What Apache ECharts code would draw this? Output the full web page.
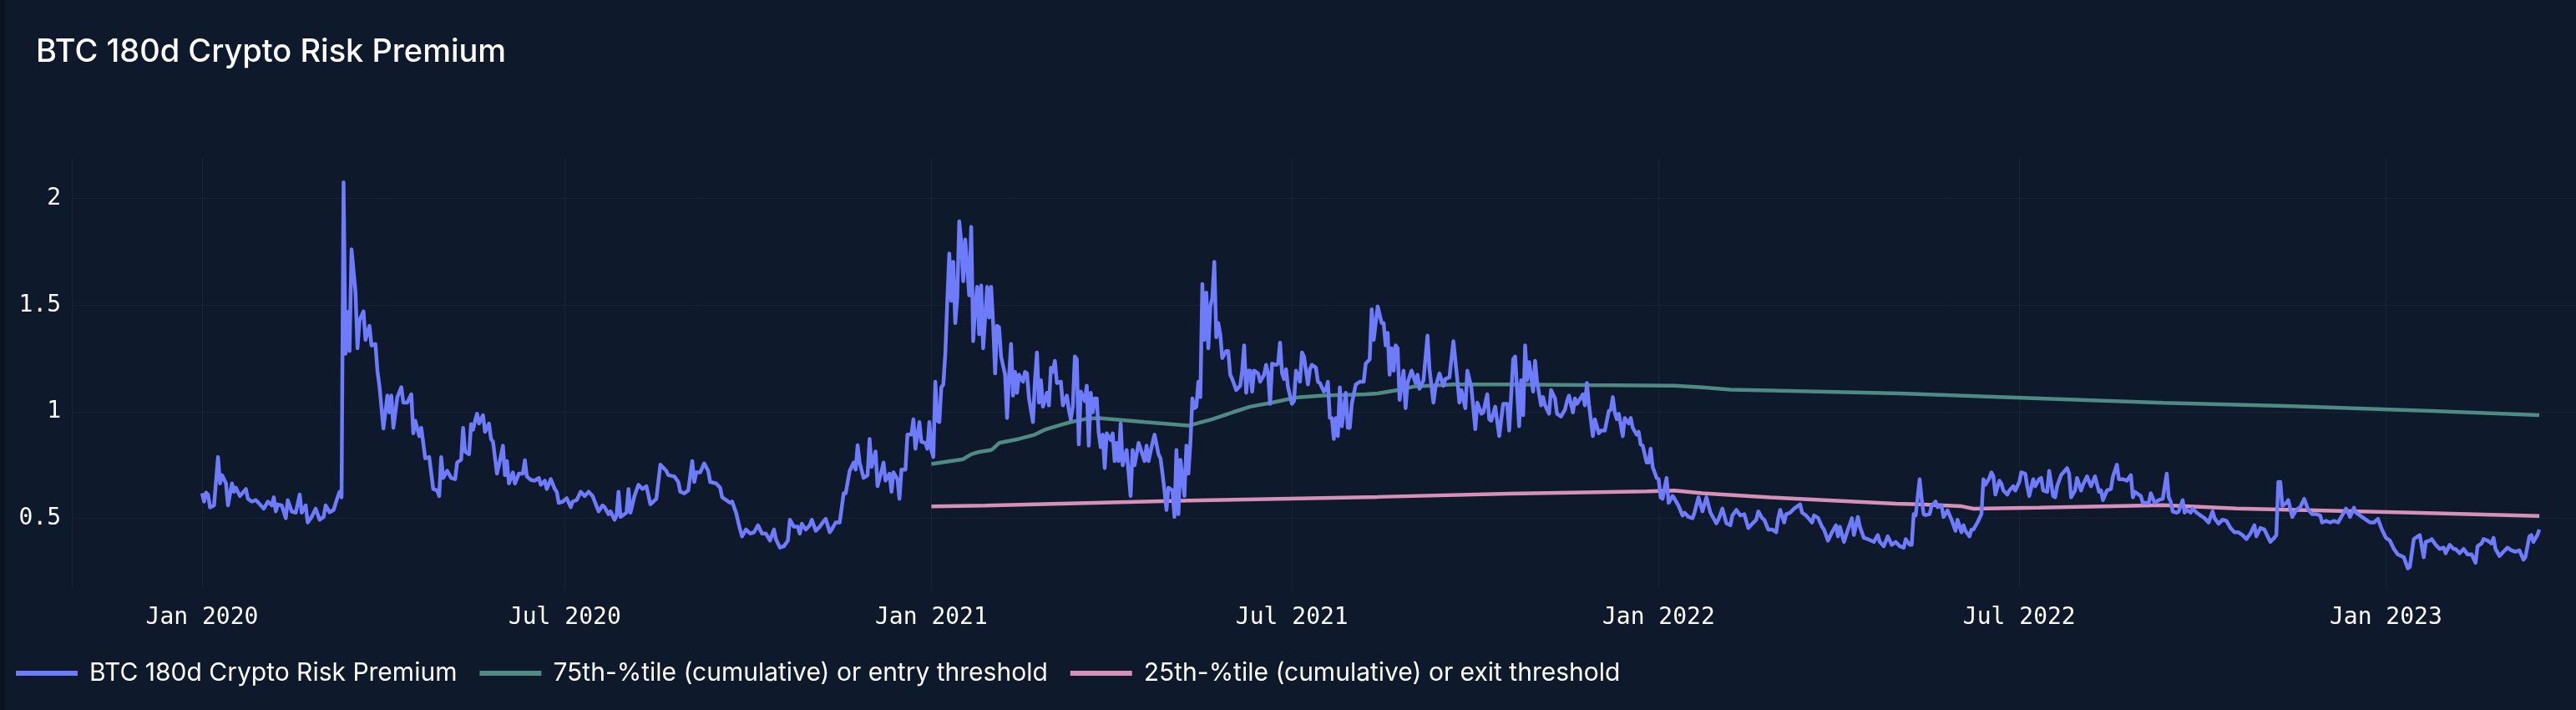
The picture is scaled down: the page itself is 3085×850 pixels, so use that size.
<!DOCTYPE html>
<html>
<head>
<meta charset="utf-8">
<script src="https://cdn.jsdelivr.net/npm/echarts@6/dist/echarts.min.js"></script>
<style>
html,body{margin:0;padding:0;background:#0e1a2b;}
#chart{width:3085px;height:850px;}
</style>
</head>
<body>
<div id="chart"></div>
<script>
// ---- Data: [days since 2020-01-01, value] ----
const START_DATE = '2020-01-01';
const seriesNames = ['BTC 180d Crypto Risk Premium', '75th-%tile (cumulative) or entry threshold', '25th-%tile (cumulative) or exit threshold'];
const yTickValues = [0.5, 1, 1.5, 2];

const premium2020a = [
[0,0.618],[1,0.579],[2,0.621],[3,0.612],[4,0.552],[6,0.561],[8,0.788],[9,0.664],[10,0.703],[12,0.664],
[13,0.561],[15,0.664],[16,0.625],[17,0.644],[19,0.605],[22,0.638],[23,0.592],[25,0.579],[27,0.586],[29,0.566],
[31,0.546],[33,0.579],[35,0.561],[36,0.599],[37,0.533],[38,0.566],[40,0.561],[42,0.501],[43,0.586],[45,0.533],
[47,0.527],[49,0.612],[50,0.527],[52,0.561],[53,0.481],[55,0.507],[57,0.546],[59,0.494],[61,0.507],[62,0.561],
[64,0.529],[66,0.540],[68,0.599],[69,0.625],[70,0.599],[71,2.076],[72,1.272],[73,1.468],[74,1.285],[75,1.762],
[77,1.559],[78,1.298],[79,1.429],[81,1.471],[82,1.337],[84,1.403],[85,1.311],[87,1.318],[88,1.193],[89,1.122],
[91,0.922],[93,1.076],[94,0.997],[95,1.076],[96,0.925],[98,1.069],[100,1.115],[101,1.043],[103,1.043],[105,1.082],
[106,0.899],[107,0.958],[109,0.886],[110,0.925],[112,0.782],[114,0.788],[116,0.638],[118,0.631],[119,0.605],[120,0.788],
[121,0.690],[123,0.723],[125,0.690],[127,0.684],[128,0.762],[130,0.775],[131,0.925],[132,0.814],[134,0.801],[135,0.942],
[136,0.916],[137,0.958],[138,0.991],[139,0.945],[141,0.984],[142,0.906],[144,0.945],[145,0.873],[146,0.860],[148,0.710],
[149,0.749],[151,0.841],[152,0.703],[153,0.769],[154,0.664],[156,0.716],[157,0.664],[159,0.710],[161,0.710],[162,0.773],
[163,0.697],[165,0.681],[167,0.677],[169,0.690],[170,0.658],[172,0.677],[173,0.638],[175,0.684],[177,0.638],[178,0.625],
[179,0.573],[181,0.579],[183,0.595],[185,0.553],[186,0.579],[188,0.586],[190,0.625],[192,0.605],[194,0.625],[196,0.605]
];
const premium2020b = [
[199,0.533],[201,0.561],[202,0.553],[204,0.520],[205,0.533],[207,0.494],[208,0.514],[209,0.625],[210,0.507],[213,0.527],
[214,0.638],[215,0.527],[217,0.605],[219,0.658],[221,0.638],[223,0.651],[225,0.566],[228,0.592],[230,0.752],[231,0.742],
[233,0.723],[234,0.703],[237,0.697],[239,0.671],[240,0.625],[242,0.618],[244,0.631],[246,0.769],[247,0.671],[248,0.716],
[250,0.716],[252,0.758],[254,0.723],[255,0.671],[258,0.664],[260,0.644],[261,0.599],[263,0.586],[265,0.573],[266,0.579],
[268,0.527],[270,0.448],[271,0.416],[273,0.448],[275,0.429],[277,0.435],[279,0.468],[281,0.429],[283,0.429],[285,0.396],
[287,0.448],[288,0.403],[290,0.363],[292,0.370],[294,0.396],[295,0.494],[297,0.461],[299,0.461],[300,0.429],[301,0.475],
[303,0.448],[305,0.468],[306,0.494],[308,0.442],[310,0.461],[312,0.488],[313,0.498],[315,0.435],[316,0.448],[318,0.481],
[320,0.481],[322,0.618],[323,0.618],[325,0.723],[327,0.762],[328,0.729],[329,0.843],[330,0.762],[332,0.690],[334,0.703],
[335,0.873],[336,0.742],[338,0.814],[339,0.651],[341,0.723],[342,0.762],[343,0.677],[345,0.710],[346,0.625],[347,0.716],
[349,0.684],[350,0.592],[351,0.729],[353,0.729],[354,0.893],[356,0.893],[357,0.965],[358,0.827],[360,0.952],[361,0.860],
[363,0.854],[364,0.827],[365,0.952],[366,0.821],[367,0.788],[368,1.141],[369,0.958],[370,0.952],[371,1.115],[372,1.128],
[373,1.272],[374,1.520],[375,1.742],[376,1.520],[377,1.703],[378,1.416],[379,1.533],[380,1.893],[381,1.795],[382,1.612],
[383,1.808],[385,1.546],[386,1.867],[387,1.331],[388,1.494],[389,1.586],[390,1.363],[391,1.592],[392,1.298]
];
const premium2021a = [
[394,1.586],[395,1.442],[396,1.586],[397,1.416],[398,1.180],[399,1.403],[400,1.396],[401,1.259],[403,1.174],[404,0.971],
[405,1.167],[406,1.318],[407,1.076],[408,1.187],[409,1.089],[410,1.174],[412,1.141],[413,1.187],[414,1.180],[415,1.063],
[417,0.952],[418,1.148],[419,1.278],[420,1.043],[421,1.148],[422,1.024],[424,1.089],[425,1.030],[426,1.207],[427,1.187],
[428,1.239],[429,1.135],[431,1.141],[432,1.030],[434,1.076],[435,1.010],[436,0.965],[437,1.024],[438,1.259],[439,1.246],
[440,0.847],[441,1.095],[443,1.050],[444,1.122],[445,0.841],[446,1.089],[447,0.997],[448,1.063],[449,1.063],[450,0.899],
[451,0.834],[452,0.893],[453,0.736],[454,0.899],[456,0.867],[457,0.899],[458,0.769],[459,0.854],[460,0.769],[461,0.945],
[462,0.749],[464,0.821],[466,0.605],[467,0.821],[468,0.749],[470,0.854],[471,0.827],[473,0.769],[474,0.841],[475,0.769],
[477,0.854],[478,0.893],[480,0.801],[481,0.782],[482,0.710],[483,0.631],[484,0.540],[485,0.644],[487,0.631],[488,0.507],
[489,0.821],[490,0.520],[491,0.775],[493,0.605],[494,0.841],[495,0.710],[496,0.854],[497,1.063],[498,1.017],[499,1.024],
[500,1.141],[501,1.069],[502,1.599],[503,1.337],[504,1.559],[505,1.298],[506,1.494],[507,1.533],[508,1.703],[509,1.350],
[510,1.416],[511,1.363],[512,1.252],[514,1.285],[515,1.285],[516,1.174],[517,1.154],[519,1.102],[521,1.122],[522,1.193],
[523,1.311],[524,1.089],[525,1.193],[526,1.193],[527,1.095],[528,1.193],[530,1.180],[531,1.141],[533,1.174],[534,1.220],
[535,1.180],[536,1.037],[537,1.226],[539,1.220],[540,1.226],[541,1.324],[542,1.180],[543,1.154],[544,1.200],[545,1.115],
[547,1.037],[548,1.050],[549,1.193],[551,1.141],[552,1.278],[553,1.259],[555,1.128],[556,1.200],[557,1.220],[559,1.207],
[560,1.141],[561,1.135],[563,1.095],[564,1.102],[565,1.141],[566,0.971],[567,0.971],[568,0.873],[569,0.971],[570,0.886],
[571,1.115],[572,0.932],[574,1.089],[575,0.925],[576,0.925],[577,1.037],[579,1.128],[581,1.141],[582,1.141],[583,1.141],
[584,1.226],[586,1.246],[587,1.481],[588,1.337],[590,1.494]
];
const premium2021b = [
[592,1.416],[593,1.416],[594,1.311],[595,1.370],[596,1.174],[597,1.298],[598,1.193],[599,1.311],[600,1.298],[601,1.056],
[603,1.193],[604,1.017],[605,1.135],[607,1.193],[609,1.135],[610,1.174],[611,1.108],[613,1.148],[615,1.357],[616,1.200],
[618,1.043],[619,1.115],[621,1.180],[623,1.122],[624,1.154],[626,1.161],[628,1.331],[630,1.148],[631,1.043],[632,1.102],
[634,1.017],[635,1.193],[637,1.115],[639,0.919],[640,1.043],[642,0.991],[643,0.997],[645,1.082],[646,0.965],[647,0.958],
[649,1.024],[651,0.886],[652,0.965],[653,1.037],[655,1.037],[656,0.912],[658,1.246],[659,1.259],[661,0.932],[662,1.148],
[663,0.984],[664,1.311],[665,1.148],[666,1.233],[668,1.095],[669,1.239],[670,1.141],[672,1.030],[673,1.069],[674,1.030],
[676,0.991],[677,1.102],[679,1.063],[680,0.991],[682,0.978],[684,1.010],[685,1.050],[686,1.076],[688,0.997],[689,1.063],
[690,1.037],[693,1.082],[694,1.030],[695,1.135],[696,1.037],[698,0.886],[699,0.965],[701,0.899],[702,0.912],[704,0.912],
[706,1.004],[707,1.010],[708,1.069],[709,0.997],[710,0.965],[711,0.991],[713,0.886],[714,0.971],[716,0.945],[717,0.971],
[718,0.925],[720,0.893],[721,0.906],[722,0.847],[723,0.841],[725,0.762],[726,0.762],[727,0.827],[728,0.742],[730,0.690],
[731,0.684],[732,0.599],[733,0.592],[734,0.644],[735,0.690],[736,0.573],[738,0.605],[739,0.592],[741,0.559],[743,0.514],
[744,0.527],[746,0.507],[748,0.501],[749,0.527],[751,0.599],[753,0.533],[755,0.599],[757,0.527],[760,0.477],[761,0.494],
[763,0.546],[765,0.477],[767,0.468],[768,0.514],[770,0.540],[772,0.514],[774,0.520],[776,0.455],[778,0.475],[780,0.494],
[781,0.533],[783,0.501],[784,0.494],[786,0.448]
];
const premium2022a = [
[788,0.448],[790,0.435],[791,0.501],[792,0.540],[794,0.481],[795,0.520],[797,0.527],[799,0.546],[802,0.566],[803,0.527],
[805,0.514],[808,0.481],[809,0.514],[811,0.503],[813,0.461],[814,0.448],[816,0.396],[818,0.435],[820,0.468],[821,0.416],
[822,0.461],[824,0.390],[826,0.448],[828,0.501],[829,0.422],[831,0.507],[832,0.461],[834,0.409],[836,0.403],[839,0.390],
[841,0.422],[842,0.390],[844,0.370],[846,0.416],[848,0.376],[850,0.390],[852,0.370],[854,0.363],[855,0.403],[857,0.376],
[858,0.376],[859,0.520],[860,0.514],[862,0.684],[863,0.592],[864,0.520],[865,0.516],[867,0.520],[868,0.559],[870,0.579],
[871,0.553],[873,0.559],[874,0.507],[876,0.537],[878,0.494],[880,0.442],[881,0.494],[883,0.435],[884,0.468],[885,0.442],
[887,0.416],[888,0.448],[889,0.448],[891,0.481],[893,0.520],[894,0.684],[895,0.658],[897,0.690],[898,0.716],[899,0.697],
[900,0.612],[902,0.677],[903,0.664],[904,0.631],[906,0.612],[907,0.631],[909,0.651],[910,0.631],[912,0.671],[913,0.716],
[915,0.710],[916,0.651],[917,0.605],[919,0.684],[920,0.651],[922,0.684],[923,0.690],[924,0.631],[926,0.625],[927,0.723],
[929,0.605],[930,0.599],[931,0.651],[933,0.703],[936,0.736],[937,0.710],[938,0.599],[940,0.631],[941,0.690],[943,0.631],
[944,0.658],[946,0.697],[948,0.651],[950,0.697],[952,0.625],[953,0.631],[954,0.586],[956,0.631],[958,0.638],[959,0.697],
[961,0.752],[962,0.684],[964,0.684],[966,0.677],[968,0.703],[969,0.599],[970,0.625],[973,0.605],[974,0.573],[975,0.573],
[977,0.573],[978,0.618],[980,0.573],[982,0.586],[984,0.592]
];
const premium2022b = [
[986,0.710],[987,0.599],[988,0.579],[989,0.533],[991,0.527],[992,0.533],[994,0.586],[995,0.527],[996,0.540],[998,0.527],
[999,0.546],[1001,0.527],[1003,0.514],[1005,0.501],[1007,0.481],[1009,0.533],[1010,0.501],[1012,0.475],[1014,0.494],[1016,0.488],
[1018,0.455],[1020,0.435],[1022,0.435],[1024,0.422],[1026,0.403],[1028,0.429],[1030,0.468],[1031,0.416],[1033,0.455],[1035,0.448],
[1038,0.390],[1040,0.409],[1041,0.422],[1042,0.671],[1043,0.671],[1044,0.559],[1046,0.573],[1047,0.586],[1049,0.507],[1051,0.540],
[1053,0.553],[1055,0.592],[1057,0.540],[1059,0.520],[1061,0.520],[1063,0.514],[1064,0.481],[1066,0.488],[1068,0.481],[1070,0.488],
[1072,0.481],[1074,0.514],[1076,0.546],[1078,0.507],[1080,0.550],[1081,0.527],[1084,0.507],[1086,0.494],[1088,0.481],[1090,0.481],
[1092,0.498],[1094,0.448],[1096,0.409],[1098,0.396],[1100,0.357],[1102,0.331],[1105,0.318],[1107,0.266],[1108,0.273],[1110,0.403],
[1112,0.416],[1113,0.422],[1115,0.318],[1116,0.390],[1118,0.396],[1119,0.403],[1121,0.376],[1123,0.357],[1125,0.363],[1126,0.337],
[1128,0.376],[1130,0.357],[1131,0.357],[1133,0.337],[1135,0.357],[1137,0.331],[1139,0.331],[1141,0.292],[1142,0.370],[1144,0.383],
[1145,0.403],[1147,0.396],[1149,0.383],[1150,0.409],[1151,0.357],[1153,0.324],[1155,0.344],[1157,0.363],[1159,0.350],[1161,0.344],
[1163,0.350],[1165,0.307],[1166,0.318],[1168,0.416],[1169,0.422],[1170,0.390],[1172,0.422],[1173,0.448]
];
const entryThreshold = [
[366,0.755],[382,0.778],[386,0.801],[390,0.812],[396,0.821],[397,0.827],[400,0.854],[410,0.873],[418,0.893],[422,0.912],
[424,0.919],[431,0.939],[436,0.952],[445,0.969],[450,0.971],[473,0.952],[495,0.935],[507,0.965],[517,0.997],[526,1.024],
[537,1.043],[548,1.065],[551,1.069],[563,1.076],[584,1.082],[590,1.086],[600,1.102],[608,1.118],[628,1.128],[656,1.128],
[695,1.125],[739,1.122],[753,1.115],[767,1.104],[787,1.100],[852,1.086],[922,1.063],[984,1.042],[1049,1.026],[1119,1.004],
[1173,0.984]
];
const exitThreshold = [
[366,0.556],[393,0.560],[490,0.583],[590,0.601],[656,0.616],[725,0.627],[739,0.631],[753,0.618],[787,0.599],[850,0.569],
[862,0.566],[883,0.557],[889,0.546],[922,0.551],[984,0.562],[1021,0.547],[1105,0.528],[1173,0.511]
];
const xRangeDays = [-65.38, 1191.4];
const yRange = [0.1697, 2.1906];

// ---- Build ----
const DAY = 86400000;
const T0 = Date.parse(START_DATE + 'T00:00:00Z');
const toTime = arr => arr.map(p => [T0 + p[0] * DAY, p[1]]);
const premium = toTime([].concat(premium2020a, premium2020b, premium2021a, premium2021b, premium2022a, premium2022b));
const MONTHS = ['Jan','Feb','Mar','Apr','May','Jun','Jul','Aug','Sep','Oct','Nov','Dec'];

const BG = '#0e1a2b';
const GRID = '#172336';
const COLORS = ['#6e7bfb', '#4f8a84', '#d690b9'];
const SANS = 'Inter, "Noto Sans", sans-serif';
const MONO = '"DejaVu Sans Mono", "Liberation Mono", monospace';

const chart = echarts.init(document.getElementById('chart'), null, {renderer: 'canvas'});
chart.setOption({
  useUTC: true,
  backgroundColor: BG,
  animation: false,
  graphic: [{type: 'rect', left: 0, top: 0, shape: {width: 6, height: 850}, style: {fill: '#0a1321'}, z: 100}],
  title: {
    text: 'BTC 180d Crypto Risk Premium',
    left: 38, top: 39,
    textStyle: {color: '#ffffff', fontFamily: SANS, fontSize: 38, fontWeight: 500}
  },
  legend: {
    left: 19, top: 791, padding: 0,
    icon: 'rect', itemWidth: 74, itemHeight: 6, itemGap: 27,
    textStyle: {color: '#ffffff', fontFamily: SANS, fontSize: 30, padding: [0, 0, 0, 9]},
    data: seriesNames
  },
  grid: {left: 86, right: 0, top: 189, bottom: 145, containLabel: false},
  xAxis: {
    type: 'time',
    min: T0 + xRangeDays[0] * DAY,
    max: T0 + xRangeDays[1] * DAY,
    minInterval: 181 * DAY, maxInterval: 181 * DAY,
    axisLine: {show: false}, axisTick: {show: false},
    splitLine: {show: true, lineStyle: {color: GRID, width: 1}},
    axisLabel: {
      color: '#ffffff', fontFamily: MONO, fontSize: 28, margin: 21, hideOverlap: false,
      formatter: function (v) { const d = new Date(v); return MONTHS[d.getUTCMonth()] + ' ' + d.getUTCFullYear(); }
    }
  },
  yAxis: {
    type: 'value', min: yRange[0], max: yRange[1], splitNumber: 4,
    axisLine: {show: false}, axisTick: {show: false},
    splitLine: {show: true, lineStyle: {color: ['rgba(0,0,0,0)', GRID, GRID, GRID, GRID, 'rgba(0,0,0,0)'], width: 1}},
    axisLabel: {
      color: '#ffffff', fontFamily: MONO, fontSize: 28, margin: 13,
      showMinLabel: false, showMaxLabel: false,
      formatter: function (v) { return yTickValues.some(t => Math.abs(t - v) < 1e-6) ? String(v) : ''; }
    }
  },
  series: [
    {name: seriesNames[0], type: 'line', data: premium, showSymbol: false, symbol: 'none',
     lineStyle: {color: COLORS[0], width: 4.5, join: 'round'}, itemStyle: {color: COLORS[0]}, z: 3},
    {name: seriesNames[1], type: 'line', data: toTime(entryThreshold), showSymbol: false, symbol: 'none',
     lineStyle: {color: COLORS[1], width: 4.5}, itemStyle: {color: COLORS[1]}, z: 2},
    {name: seriesNames[2], type: 'line', data: toTime(exitThreshold), showSymbol: false, symbol: 'none',
     lineStyle: {color: COLORS[2], width: 4.5}, itemStyle: {color: COLORS[2]}, z: 2}
  ]
});
</script>
</body>
</html>
